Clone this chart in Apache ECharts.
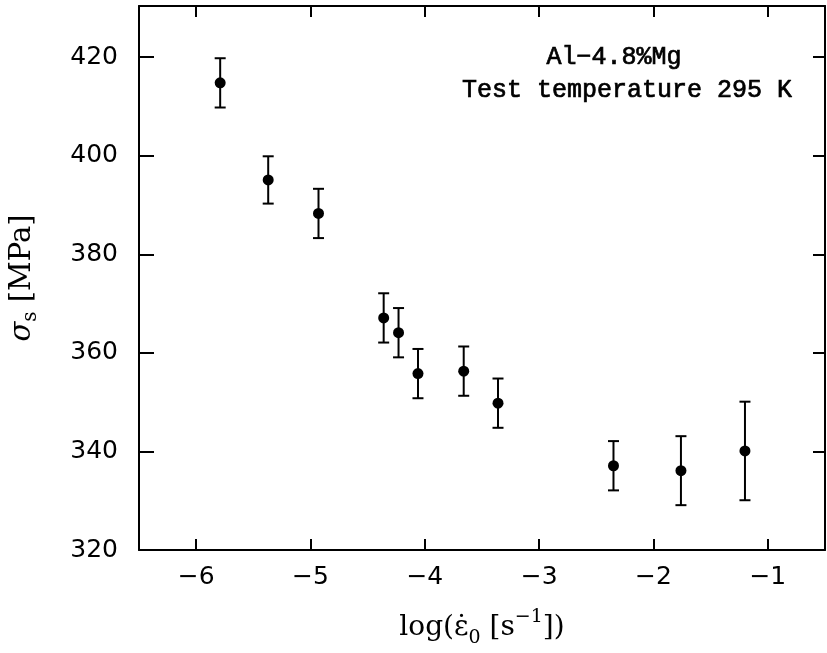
<!DOCTYPE html>
<html>
<head>
<meta charset="utf-8">
<script src="https://cdn.jsdelivr.net/npm/echarts@6/dist/echarts.min.js"></script>
<style>html,body{margin:0;padding:0;background:#fff}#c{width:827px;height:653px}</style>
</head>
<body>
<div id="c"></div>
<script>
// ---- data ----
const logRate = [-5.79, -5.37, -4.93, -4.36, -4.23, -4.06, -3.66, -3.36, -2.35, -1.76, -1.20];
const stress  = [414.8, 395.1, 388.3, 367.1, 364.1, 355.8, 356.3, 349.8, 337.1, 336.1, 340.1];
const stressErr = [5, 4.8, 5, 5, 5, 5, 5, 5, 5, 7, 10];
const xTicks = [-6, -5, -4, -3, -2, -1];
const yTicks = [320, 340, 360, 380, 400, 420];
const noteLines = ['Al\u22124.8%Mg', 'Test temperature 295 K'];

const points = logRate.map((x, i) => [x, stress[i]]);
const bars = logRate.map((x, i) => [x, stress[i] - stressErr[i], stress[i] + stressErr[i]]);

const fmtMinus = v => String(v).replace('-', '\u2212');
const sans = 'DejaVu Sans';
const serif = 'DejaVu Serif';
const mono = 'Liberation Mono';

const chart = echarts.init(document.getElementById('c'), null, {renderer: 'canvas'});
const axisLine = {show: true, lineStyle: {color: '#000', width: 2}};
chart.setOption({
  animation: false,
  backgroundColor: '#fff',
  grid: {left: 139, right: 2, top: 6, bottom: 103, containLabel: false, outerBoundsMode: 'none'},
  xAxis: [{
    type: 'value', min: -6.5, max: -0.5, interval: 1,
    axisLine: axisLine,
    axisTick: {show: true, inside: true, length: 11, lineStyle: {color: '#000', width: 2},
      customValues: xTicks},
    axisLabel: {margin: 15, color: '#000', fontFamily: sans, fontSize: 25,
      customValues: xTicks, formatter: fmtMinus},
    splitLine: {show: false},
    name: '{m|log(ε\u0307}{sub|0}{m| [s}{sup|\u22121}{m|])}',
    nameLocation: 'middle', nameGap: 58,
    nameTextStyle: {color: '#000', fontFamily: serif, fontSize: 28, lineHeight: 40,
      rich: {
        m: {fontFamily: serif, fontSize: 28, lineHeight: 40, color: '#000'},
        sub: {fontFamily: serif, fontSize: 19, lineHeight: 17, verticalAlign: 'bottom', color: '#000'},
        sup: {fontFamily: serif, fontSize: 19, lineHeight: 19, verticalAlign: 'top', color: '#000'}
      }}
  }, {
    type: 'value', position: 'top', min: -6.5, max: -0.5, interval: 1,
    axisLine: axisLine,
    axisTick: {show: true, inside: true, length: 11, lineStyle: {color: '#000', width: 2},
      customValues: xTicks},
    axisLabel: {show: false},
    splitLine: {show: false}
  }],
  yAxis: [{
    type: 'value', min: 320, max: 430.4, interval: 20,
    axisLine: axisLine,
    axisTick: {show: true, inside: true, length: 15, lineStyle: {color: '#000', width: 2},
      customValues: yTicks},
    axisLabel: {margin: 21, color: '#000', fontFamily: sans, fontSize: 25, customValues: yTicks},
    splitLine: {show: false},
    name: '{i|σ}{sub|s}{m| [MPa]}',
    nameLocation: 'middle', nameGap: 98, nameRotate: 90,
    nameTextStyle: {color: '#000', fontFamily: serif, fontSize: 28, lineHeight: 38,
      rich: {
        m: {fontFamily: serif, fontSize: 29, lineHeight: 38, color: '#000'},
        i: {fontFamily: serif, fontStyle: 'italic', fontSize: 29, lineHeight: 38, color: '#000'},
        sub: {fontFamily: serif, fontSize: 20, lineHeight: 19, verticalAlign: 'bottom', color: '#000'}
      }}
  }, {
    type: 'value', position: 'right', min: 320, max: 430.4, interval: 20,
    axisLine: axisLine,
    axisTick: {show: true, inside: true, length: 12, lineStyle: {color: '#000', width: 2},
      customValues: yTicks},
    axisLabel: {show: false},
    splitLine: {show: false}
  }],
  graphic: [
    {type: 'text', x: 614, y: 57, silent: true,
      style: {text: noteLines[0], fill: '#000', stroke: '#000', lineWidth: 0.7,
        font: '25px "' + mono + '"', align: 'center', verticalAlign: 'middle'}},
    {type: 'text', x: 627, y: 90, silent: true,
      style: {text: noteLines[1], fill: '#000', stroke: '#000', lineWidth: 0.7,
        font: '25px "' + mono + '"', align: 'center', verticalAlign: 'middle'}}
  ],
  series: [{
    type: 'custom',
    xAxisIndex: 0, yAxisIndex: 0,
    data: bars,
    encode: {x: 0, y: [1, 2]},
    renderItem: function (params, api) {
      const lo = api.coord([api.value(0), api.value(1)]);
      const hi = api.coord([api.value(0), api.value(2)]);
      const hw = 5.5;
      const st = {stroke: '#000', lineWidth: 2};
      return {type: 'group', children: [
        {type: 'line', shape: {x1: lo[0], y1: lo[1], x2: hi[0], y2: hi[1]}, style: st},
        {type: 'line', shape: {x1: lo[0] - hw, y1: lo[1], x2: lo[0] + hw, y2: lo[1]}, style: st},
        {type: 'line', shape: {x1: hi[0] - hw, y1: hi[1], x2: hi[0] + hw, y2: hi[1]}, style: st}
      ]};
    },
    z: 2
  }, {
    type: 'scatter',
    xAxisIndex: 0, yAxisIndex: 0,
    data: points,
    symbol: 'circle', symbolSize: 11,
    itemStyle: {color: '#000', opacity: 1},
    z: 3
  }]
});
</script>
</body>
</html>
